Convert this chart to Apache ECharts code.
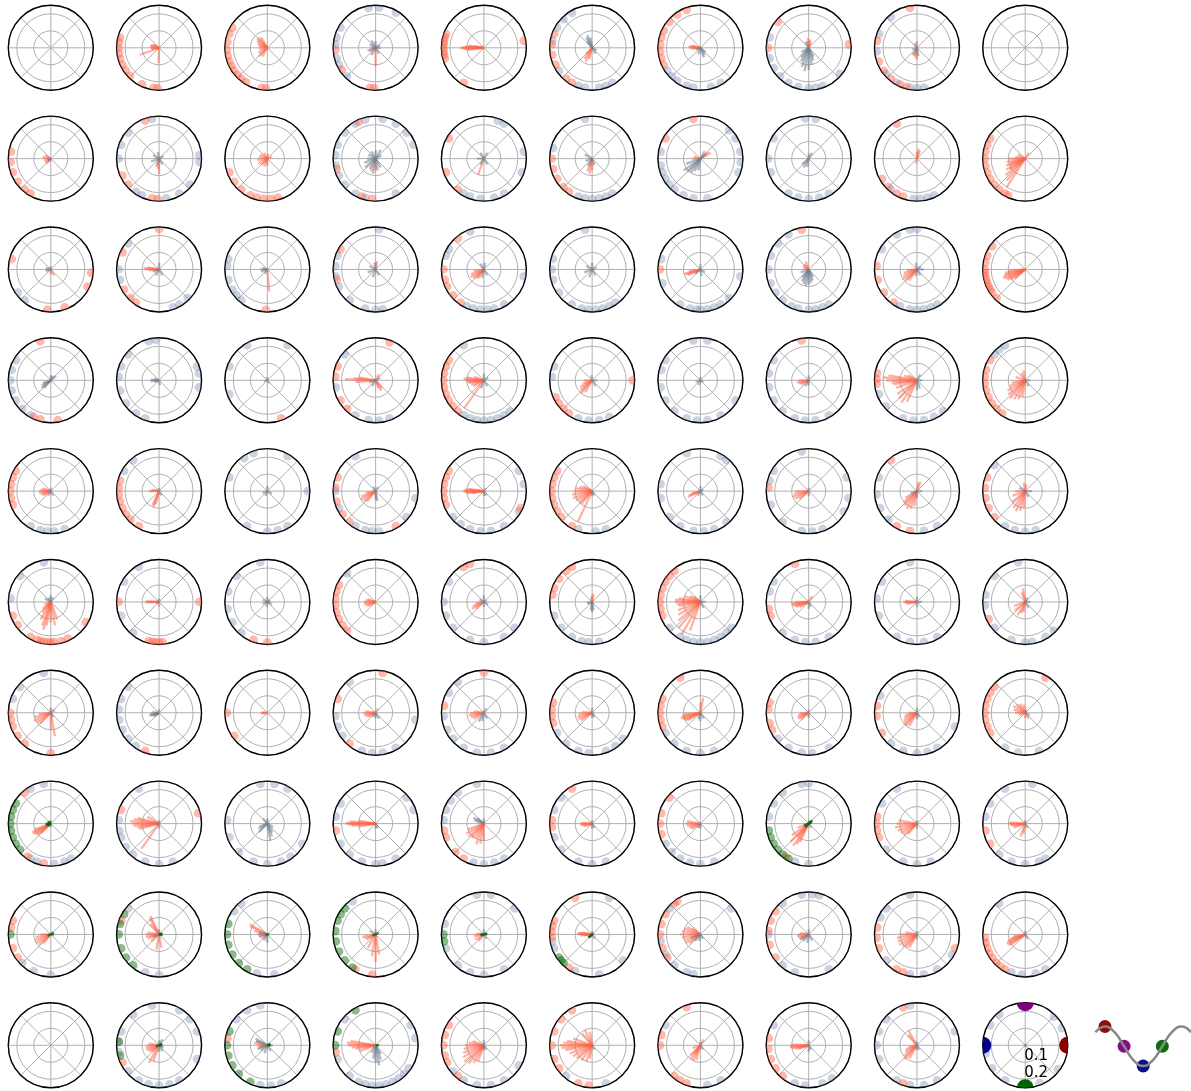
<!DOCTYPE html>
<html>
<head>
<meta charset="utf-8">
<script src="https://cdn.jsdelivr.net/npm/echarts@6/dist/echarts.min.js"></script>
<style>
  html, body { margin: 0; padding: 0; background: #fff; }
  #chart { width: 1191px; height: 1091px; }
</style>
</head>
<body>
<div id="chart"></div>
<script>
// Grid of 10 x 10 polar panels. Cell index = row * 10 + col.
// Vectors are [angleDeg, length]; dots are angles on the rim. Radius axis runs 0..0.25.

const redVectors = [
  /* row 0 */
  [],
  [[200,.12],[268,.09],[160,.05],[170,.055],[180,.05],[190,.045],[150,.04]],
  [[120,.07],[130,.08],[140,.08],[150,.07],[160,.06],[170,.05],[190,.05],[210,.06],[225,.07],[240,.06]],
  [[270,.11],[210,.04],[180,.03]],
  [[178,.13],[181,.14],[184,.12],[176,.11],[172,.09],[188,.1],[170,.06]],
  [[245,.09],[235,.08],[255,.07],[225,.05]],
  [[170,.06],[175,.07],[180,.065],[165,.05],[185,.05]],
  [[80,.05],[95,.06],[100,.04],[70,.04]],
  [[260,.06],[270,.07],[250,.05],[90,.04]],
  [],
  /* row 1 */
  [[150,.04],[170,.05],[190,.04],[210,.04],[230,.04]],
  [[270,.09],[265,.06]],
  [[150,.05],[170,.05],[190,.06],[210,.06],[230,.05],[250,.05],[270,.04],[120,.04],[80,.03],[20,.03]],
  [[250,.08],[270,.07]],
  [[250,.1]],
  [[260,.09],[250,.08],[270,.07]],
  [[30,.07],[40,.06],[180,.05],[160,.04]],
  [],
  [[80,.06],[70,.05],[90,.04],[260,.03]],
  [[180,.1],[190,.11],[200,.12],[210,.13],[220,.15],[230,.17],[237,.2],[195,.09],[205,.1],[215,.11],[170,.06],[60,.04],[150,.05]],
  /* row 2 */
  [[300,.04],[270,.03],[160,.03]],
  [[175,.09],[180,.08],[170,.07],[185,.06]],
  [[275,.13]],
  [[80,.05],[100,.04]],
  [[200,.08],[210,.09],[220,.08],[230,.07],[240,.06],[190,.06]],
  [],
  [[195,.1],[200,.09],[205,.08],[190,.07]],
  [[110,.05],[130,.04],[150,.04],[170,.03]],
  [[195,.08],[205,.09],[215,.1],[225,.09],[235,.08],[185,.06]],
  [[185,.1],[190,.12],[195,.13],[200,.14],[205,.13],[210,.12],[215,.1],[220,.08]],
  /* row 3 */
  [],
  [],
  [],
  [[178,.18],[175,.13],[185,.12],[170,.1],[300,.07],[310,.06],[290,.05],[60,.04]],
  [[170,.1],[175,.12],[180,.11],[185,.1],[190,.09],[200,.08],[210,.07],[235,.2],[160,.06]],
  [[210,.08],[220,.09],[230,.1],[240,.08],[200,.06],[180,.05]],
  [],
  [[180,.06],[190,.07],[200,.06],[210,.05]],
  [[170,.17],[175,.2],[180,.18],[185,.15],[190,.14],[200,.13],[215,.14],[225,.15],[235,.16],[245,.14],[160,.08],[150,.06]],
  [[200,.1],[210,.12],[220,.13],[230,.14],[240,.13],[250,.12],[260,.1],[190,.08],[160,.06],[100,.06],[120,.05]],
  /* row 4 */
  [[170,.06],[180,.07],[190,.07],[200,.06],[160,.05],[210,.05]],
  [[175,.05],[180,.06],[170,.04],[250,.1],[245,.09],[255,.08]],
  [],
  [[200,.09],[210,.1],[220,.09],[230,.08],[190,.06]],
  [[175,.11],[178,.12],[181,.12],[184,.11],[187,.1],[172,.09],[190,.07]],
  [[170,.1],[180,.11],[190,.12],[200,.12],[210,.11],[220,.1],[230,.1],[245,.2],[160,.08],[150,.06]],
  [[200,.07],[205,.08],[195,.05]],
  [[180,.08],[190,.09],[200,.1],[210,.09],[220,.07]],
  [[210,.08],[220,.1],[230,.11],[240,.12],[250,.11],[260,.09],[70,.06],[80,.05]],
  [[200,.08],[220,.1],[235,.12],[245,.13],[255,.12],[265,.1],[180,.06],[100,.05],[80,.04]],
  /* row 5 */
  [[240,.12],[250,.15],[255,.17],[260,.14],[270,.12],[280,.14],[290,.11],[230,.08],[220,.06],[200,.04]],
  [[178,.08],[182,.08],[180,.07],[270,.03]],
  [[0,.02]],
  [[170,.06],[180,.07],[190,.07],[200,.06],[210,.05],[160,.05]],
  [[200,.07],[210,.08],[220,.06],[190,.05]],
  [[80,.05],[90,.04],[100,.03],[190,.03]],
  [[170,.13],[175,.15],[180,.15],[185,.14],[190,.13],[200,.14],[210,.15],[220,.17],[230,.2],[240,.22],[250,.18],[160,.1],[150,.07],[140,.05]],
  [[180,.08],[185,.1],[190,.1],[195,.09],[200,.08],[210,.06],[60,.04]],
  [[175,.07],[180,.08],[185,.07],[190,.06]],
  [[100,.08],[110,.06],[200,.07],[220,.08],[240,.09],[250,.07],[260,.06]],
  /* row 6 */
  [[195,.1],[205,.11],[215,.1],[225,.09],[280,.14],[270,.1],[185,.07]],
  [[170,.04]],
  [[180,.04],[175,.03],[185,.035]],
  [[170,.06],[180,.07],[190,.07],[200,.06],[210,.05],[60,.03]],
  [[180,.08],[190,.09],[200,.08],[210,.07],[170,.06]],
  [[185,.08],[195,.09],[205,.09],[215,.08],[175,.06]],
  [[185,.1],[190,.11],[195,.12],[200,.11],[205,.1],[210,.09],[80,.09],[90,.06]],
  [[190,.06],[200,.07],[210,.07],[220,.06],[180,.05]],
  [[200,.08],[210,.09],[220,.1],[230,.1],[240,.09],[190,.07],[180,.05]],
  [[120,.06],[135,.07],[150,.08],[165,.07],[180,.06],[100,.05],[200,.04],[300,.04],[270,.03]],
  /* row 7 */
  [[200,.1],[205,.12],[210,.12],[215,.11],[220,.1],[225,.08]],
  [[165,.13],[170,.15],[175,.17],[180,.16],[185,.15],[190,.13],[195,.12],[235,.18],[150,.08]],
  [],
  [[178,.17],[180,.18],[182,.16],[175,.15],[185,.14],[190,.1],[170,.1]],
  [[200,.1],[210,.12],[220,.12],[230,.11],[240,.1],[250,.13],[260,.12],[270,.1]],
  [[175,.06],[180,.07],[185,.07],[190,.06],[200,.05]],
  [[170,.08],[180,.09],[190,.08],[200,.07],[210,.06]],
  [[215,.12],[225,.15],[235,.16],[240,.14],[245,.12],[230,.1],[200,.07]],
  [[170,.11],[180,.12],[190,.13],[200,.12],[210,.11],[220,.1],[230,.08]],
  [[175,.09],[180,.1],[185,.09],[190,.08],[200,.07],[250,.08],[260,.06]],
  /* row 8 */
  [[190,.09],[200,.1],[210,.1],[220,.09],[230,.07],[180,.06]],
  [[115,.12],[120,.11],[130,.08],[170,.07],[180,.08],[190,.08],[200,.07],[220,.06],[260,.09],[280,.08]],
  [[150,.12],[155,.11],[165,.08],[180,.06],[200,.05],[220,.04]],
  [[260,.13],[270,.16],[280,.12],[240,.09],[200,.07],[190,.08],[210,.06]],
  [[180,.05],[190,.06],[210,.06],[230,.05],[170,.04]],
  [[172,.08],[176,.09],[180,.08],[184,.07],[170,.06],[186,.05]],
  [[150,.09],[160,.1],[170,.11],[180,.12],[190,.11],[200,.1],[210,.1],[220,.08],[140,.06]],
  [[180,.06],[190,.07],[200,.06],[210,.05],[170,.05]],
  [[180,.1],[190,.12],[200,.12],[210,.12],[220,.11],[230,.1],[240,.09],[170,.07]],
  [[195,.09],[200,.11],[205,.12],[210,.12],[215,.11],[190,.07]],
  /* row 9 */
  [],
  [[180,.07],[190,.08],[200,.08],[210,.07],[220,.06],[240,.12],[250,.1],[170,.06]],
  [[160,.07],[170,.08],[180,.06],[200,.06],[190,.05]],
  [[170,.15],[175,.17],[180,.16],[185,.14],[190,.12],[200,.1]],
  [[170,.09],[180,.11],[190,.12],[200,.13],[210,.14],[220,.15],[230,.14],[240,.12],[250,.1],[160,.07]],
  [[100,.08],[115,.1],[130,.09],[160,.12],[170,.15],[175,.17],[180,.19],[185,.18],[190,.16],[200,.14],[210,.13],[220,.12],[235,.11],[250,.1],[260,.08]],
  [[225,.08],[235,.1],[245,.1],[255,.09],[240,.06],[200,.05],[60,.04]],
  [[178,.1],[182,.11],[186,.11],[190,.1],[195,.08],[200,.06]],
  [[120,.1],[130,.08],[200,.07],[210,.08],[220,.1],[230,.11],[240,.09],[190,.05]],
  []
];

const greyVectors = [
  /* row 0 */
  [], [],
  [],
  [[90,.04],[120,.05],[150,.04],[200,.05],[240,.05],[300,.04],[30,.03],[0,.03]],
  [],
  [[110,.08],[120,.07],[100,.06],[130,.05],[300,.04],[330,.03]],
  [[300,.05],[290,.06],[320,.04],[250,.04],[200,.03]],
  [[250,.12],[260,.14],[270,.13],[280,.1],[240,.09],[230,.07],[290,.08],[300,.06],[210,.05],[120,.04]],
  [[240,.05],[280,.05],[120,.03],[200,.03]],
  [],
  /* row 1 */
  [[200,.02],[250,.02]],
  [[100,.04],[150,.04],[200,.05],[250,.05],[300,.04],[30,.03]],
  [],
  [[200,.07],[220,.08],[240,.07],[260,.09],[280,.07],[300,.06],[60,.06],[90,.05],[120,.05],[150,.05],[180,.05],[30,.04]],
  [[60,.04],[120,.04],[180,.04],[240,.04],[300,.04]],
  [[150,.05],[200,.04],[240,.05],[290,.04]],
  [[200,.09],[215,.12],[225,.11],[235,.1],[245,.08],[260,.07],[60,.05],[40,.04]],
  [[220,.05],[240,.06],[260,.05],[60,.04],[90,.03]],
  [],
  [],
  /* row 2 */
  [[180,.03],[200,.03],[90,.02]],
  [[200,.04],[240,.04],[300,.04],[90,.04]],
  [[180,.04],[200,.04],[160,.03],[240,.03]],
  [[90,.04],[150,.04],[200,.05],[250,.05],[300,.04]],
  [[80,.04],[120,.04],[260,.05],[300,.04]],
  [[90,.04],[150,.04],[200,.05],[250,.05],[300,.04],[30,.03]],
  [[90,.03],[220,.04],[280,.04],[330,.03]],
  [[240,.08],[250,.09],[260,.1],[270,.09],[280,.08],[290,.07],[230,.06],[200,.05],[300,.05]],
  [[100,.04],[260,.04],[300,.04],[0,.04],[40,.03]],
  [],
  /* row 3 */
  [[210,.06],[220,.07],[230,.06],[200,.05],[40,.04],[60,.03],[90,.03]],
  [[175,.05],[185,.05],[160,.03],[200,.03],[280,.03]],
  [[90,.02],[200,.02],[300,.02]],
  [[200,.04],[240,.04],[30,.03]],
  [[90,.04],[250,.05],[300,.04],[30,.03]],
  [[100,.03],[300,.04],[0,.03]],
  [[200,.03],[250,.03],[90,.02],[330,.02]],
  [[240,.04],[270,.03],[90,.03]],
  [[270,.06],[290,.05],[60,.04],[0,.03]],
  [[300,.04],[0,.03]],
  /* row 4 */
  [[90,.02],[240,.03],[300,.03]],
  [[90,.02],[300,.03]],
  [[90,.03],[200,.03],[250,.03],[330,.03]],
  [[280,.06],[270,.05],[60,.03],[120,.03]],
  [[270,.03],[300,.03],[60,.02]],
  [[270,.03],[300,.03]],
  [[90,.03],[240,.03],[300,.03],[30,.02]],
  [[270,.03],[90,.02]],
  [[200,.04],[270,.04],[0,.03]],
  [[150,.04],[300,.04],[0,.04]],
  /* row 5 */
  [[90,.04],[120,.03],[150,.04],[60,.03]],
  [[90,.02],[200,.02]],
  [[90,.03],[150,.03],[200,.03],[260,.03],[330,.03],[30,.02]],
  [],
  [[90,.04],[150,.03],[270,.03],[330,.03],[30,.02]],
  [[260,.05],[270,.06],[280,.05],[200,.03]],
  [[90,.04],[300,.04],[0,.03]],
  [[270,.04],[300,.03]],
  [[90,.03],[270,.03],[0,.03]],
  [[0,.03],[300,.04],[60,.03]],
  /* row 6 */
  [[90,.03],[40,.03],[300,.03]],
  [[185,.05],[195,.06],[200,.05],[210,.04],[220,.03],[90,.02]],
  [],
  [[270,.03],[300,.04],[240,.03]],
  [[240,.06],[260,.05],[300,.04],[60,.03]],
  [[90,.03],[270,.03],[300,.03]],
  [[270,.05],[300,.04],[250,.04]],
  [[270,.03],[90,.02]],
  [[90,.03],[270,.04],[300,.03]],
  [[330,.03],[60,.02]],
  /* row 7 */
  [[270,.02],[90,.02]],
  [[90,.02],[270,.03]],
  [[200,.05],[210,.06],[225,.07],[280,.1],[290,.08],[300,.06],[330,.04],[90,.03],[130,.04]],
  [[270,.03],[300,.03]],
  [[150,.07],[160,.06],[140,.05],[90,.03]],
  [[270,.03],[300,.03],[90,.02]],
  [[270,.03],[240,.03]],
  [[300,.03]],
  [[90,.02],[270,.03]],
  [[90,.02],[300,.03]],
  /* row 8 */
  [],
  [[90,.03],[200,.04]],
  [[170,.05],[190,.05],[240,.04],[270,.05]],
  [[90,.03],[150,.04]],
  [[300,.03],[90,.03]],
  [[300,.03],[90,.02]],
  [[200,.06],[230,.05],[260,.04],[300,.03]],
  [[210,.06],[230,.05],[260,.05],[300,.04],[90,.03]],
  [[270,.03],[90,.02]],
  [[90,.02],[300,.03]],
  /* row 9 */
  [],
  [[60,.04],[90,.03],[270,.04],[300,.04],[330,.03]],
  [[150,.08],[160,.07],[200,.06],[220,.05],[250,.05],[300,.04],[0,.03]],
  [[270,.1],[280,.12],[290,.09],[260,.08],[300,.06],[240,.05]],
  [[90,.03],[270,.03],[300,.03]],
  [[300,.03]],
  [[300,.03],[90,.02]],
  [[270,.04],[90,.03],[300,.03]],
  [[270,.03],[90,.02],[300,.03]],
  [[0,.008],[90,.008],[180,.008],[270,.008]]
];

const greenVectors = [];
greenVectors[70] = [[180,.03],[200,.03],[160,.02],[220,.02],[140,.02]];
greenVectors[77] = [[40,.03],[60,.02],[20,.02],[200,.03],[230,.03]];
greenVectors[80] = [[0,.02],[40,.02],[200,.02]];
greenVectors[81] = [[0,.02],[350,.02],[20,.02]];
greenVectors[82] = [[0,.012],[180,.01]];
greenVectors[83] = [[30,.02],[200,.02]];
greenVectors[84] = [[0,.02],[20,.02],[180,.02],[200,.02]];
greenVectors[85] = [[220,.03],[225,.025],[40,.01]];
greenVectors[91] = [[0,.02],[30,.02],[200,.02]];
greenVectors[92] = [[0,.02],[30,.02]];
greenVectors[93] = [[0,.02]];

const redDots = [
  /* row 0 */
  [],
  [165,172,180,188,196,205,214,224,245,262,268],
  [150,160,172,183,192,200,207,214,222,230,238,262,268],
  [183,213,262,268],
  [160,165,170,175,180,185,190,195,240,10],
  [160,175,190,205,230,240],
  [110,125,140,155,165,175,185,195,205],
  [140,180,5],
  [100,170,200,215,230,245,255],
  [],
  /* row 1 */
  [170,185,200,215,230,240],
  [110,205,220,260,268],
  [200,215,230,245,255,265,275,285],
  [115,195,265,250],
  [150,200,230],
  [180,195,210,225,235],
  [100,150],
  [],
  [120,210,225,240,250],
  [150,160,170,180,190,200,210,220,230,240,245],
  /* row 2 */
  [165,355,335,265,290],
  [90,155,210,225,235],
  [268],
  [150,195],
  [130,180,195,205,220,235],
  [],
  [180],
  [100],
  [175,195,215,235],
  [145,160,170,180,185,190,195,200,205,210,215,225],
  /* row 3 */
  [105,245,255,280],
  [],
  [290],
  [70,160,175,210,225],
  [150,160,170,180,190,200,210,220,230],
  [0,205,215,225,235],
  [],
  [100],
  [170,178,185],
  [150,165,175,185,195,205,215,225,235],
  /* row 4 */
  [150,160,170,180,190,200],
  [165,175,185,195,205,215,225,240],
  [],
  [160,175,195,215,230,300],
  [150,160,170,180,190,200,335],
  [150,160,170,180,190,200,210,220,240],
  [],
  [175],
  [130,240,260],
  [160,175,190,205,220],
  /* row 5 */
  [200,215,240,250,255,260,265,270,275,285,295,330],
  [0,180,255,260,265,270,275],
  [270,250],
  [155,165,175,185,195,205,215,225],
  [120,110],
  [120,130,145,160,170],
  [130,140,150,160,170,180,190,200],
  [110,190,200],
  [],
  [205],
  /* row 6 */
  [180,190,200,215,230,270],
  [250],
  [180,215],
  [80,160,230],
  [90,170],
  [165,175,185,195],
  [120,160,170,180,190,200],
  [165,175,195,205],
  [170,185,210],
  [140,150,160,170,180,190,200,210,60],
  /* row 7 */
  [130,235,260],
  [160,15],
  [],
  [190],
  [190,200,225,240],
  [175,185,120],
  [140,165,180,195],
  [235],
  [170,180,190,200],
  [190,210],
  /* row 8 */
  [160,170,200,215],
  [160],
  [],
  [240,265],
  [],
  [115,160,168,176,184,235],
  [125,130,150,165,180,200,215],
  [145,160,175,195,215],
  [170,185,200,240,250,340],
  [185,192,200,208,216,224,232,240],
  /* row 9 */
  [],
  [205],
  [170],
  [190],
  [150,165,180,195,205,230],
  [120,140,160,180,200,215,250,265],
  [110,165,180,230,240,250],
  [170,185,200,215,230],
  [110,250],
  []
];

const greyDots = [
  /* row 0 */
  [], [], [],
  [100,85,60,150,165,175,195,205,225],
  [],
  [120,135,150,170,215,250,260,280,290,300],
  [215,225,235,250,260,285,300],
  [165,195,210,225,240,255,270,280,290,320],
  [130,160,185,220,240,260,270,280],
  [],
  /* row 1 */
  [],
  [100,140,160,180,235,245,280,300,320,355,5],
  [],
  [105,120,140,160,175,190,205,220,240,255,300,20,40,60,80],
  [60,70,10,340,300,265,250,285,240],
  [100,250,260,270,280,290,300,165],
  [170,190,200,210,220,230,245,260,280,340,355,10,30,45],
  [80,95,150,200,240,255,270,285,300,180],
  [230,265,275,285,295],
  [],
  /* row 2 */
  [215,230],
  [140,180,195,290,300,315],
  [165,175,195,210,220,230],
  [85,160,175,190,205,230,255,270,280],
  [110,150,160,245,255,265,275,285,300,350],
  [100,165,180,195,215,240,255,265,275,285,295,305],
  [165,200,240,255,265,270,280,290,300,315,350],
  [120,140,160,180,200,215,230,245,255,270,280,290,300],
  [90,100,120,150,245,260,270,280,290,300],
  [],
  /* row 3 */
  [150,165,180,195,210,225,240],
  [95,105,140,160,175,195,215,235,250,350,10,20],
  [60,120,160,200],
  [140,190,240,260,275,290],
  [120,240,250,260,270,280,290,300,310],
  [250,265,280,295,175,160],
  [80,100,150,165,190,210,230,250,265,280,300,330],
  [150,170,190,210,230,250,265,280,300],
  [250,265,280,295,310,200,220],
  [120,130,140],
  /* row 4 */
  [240,255,265,275,290],
  [130,150],
  [60,110,125,160,0,270,285,300,240],
  [120,180,205,240,255,265,275,320,350],
  [220,235,250,265,280,300,330,10,30],
  [250,275,290],
  [50,60,110,170,190,220,240,260,275,290,310],
  [100,150,165,200,230,260,275,290,330,350,20],
  [160,185,205,225,280,300],
  [140,240,255,270,285],
  /* row 5 */
  [100,140,175],
  [120,150,200,230],
  [100,140,165,190,210,230],
  [135],
  [150,180,200,220,250,270,300,320],
  [200,220,240,255,265,280],
  [220,240,250,260,270,280,290,300,310,320],
  [150,165,230,250,265,280,300],
  [100,150,175,200,240,260,280,300],
  [100,140,170,185,220,250,270,280,300,315],
  /* row 6 */
  [100,140,160],
  [140,160,175,190,205,220,235],
  [],
  [130,185,200,215,250,265,280,300,350],
  [130,150,185,205,220,240,260,280,300],
  [210,230,250,265,290,305,320],
  [210,230,250,270,290],
  [220,240,260,275,300],
  [155,230,250,270,285,300,340],
  [240,260,290],
  /* row 7 */
  [240,250,275,290,300,100,120],
  [120,175,190,200,215,230,250,270,290],
  [80,60,100,175,200,225,250,270,290,305,330],
  [150,170,210,230,250,270,280,300,20,40],
  [100,130,145,160,175,255,270,285,300],
  [140,160,200,220,250,270,290],
  [210,225,240,255,270,290],
  [90,100,130,150,170,250,270],
  [150,220,250,270,290,120],
  [120,150,170,230,250,270,290,300,80],
  /* row 8 */
  [225,245,270],
  [140,250,270],
  [130,145,255,280],
  [125],
  [80,100,165,200,230,250,270,300,40],
  [190,200,245,280,65,320],
  [140,190,210,230,250,260,40],
  [75,85,100,130,180,230,250,300],
  [100,140,155,220,260,280,300,330],
  [130,250,265,285,300],
  /* row 9 */
  [],
  [100,130,160,175,190,220,240,255,270,285,300,20,40,60,340],
  [100,120,140,260,275,290],
  [140,200,230,245,255,265,275,285,295,305,315,325,10,30],
  [220,240,260,280,300,330],
  [230,290],
  [150,280,300],
  [150,250,265,290,305],
  [100,140,160,180,200,240,260,280,300,20],
  [25,45,130,150,192,215,240,291,324]
];

const greenDots = [];
greenDots[70] = [150,160,170,180,190,200,210,220];
greenDots[77] = [190,200,210,220,230,240];
greenDots[80] = [180];
greenDots[81] = [150,165,180,200,215,230];
greenDots[82] = [165,180,195,210,225,240];
greenDots[83] = [140,150,160,175,190,205,220,235];
greenDots[84] = [180,190];
greenDots[85] = [215,220,225];
greenDots[91] = [175,195];
greenDots[92] = [160,180,195,210,225,245];
greenDots[93] = [120,160,180];

// Phase key: marker angle on the last panel and position on the cosine strip.
const phaseAngles = [0, 90, 180, 270];
const phaseColors = ['#8b0000', '#800080', '#00008b', '#006400'];
const phaseLevels = [1, 0, -1, 0];
// Cosine key curve, sampled every 45 degrees of phase.
const curvePhase = [-45, 0, 45, 90, 135, 180, 225, 270, 315, 360, 405];
const curveLevel = [0.71, 1, 0.71, 0, -0.71, -1, -0.71, 0, 0.71, 1, 0.71];
// Radius labels shown on the key panel.
const radiusTicks = [0.1, 0.2];

// Drawing constants
const DOT_R = 0.238;
const KEY_R = 0.25;
const VEC_COLORS = ['rgba(255,99,71,0.5)', 'rgba(112,128,144,0.55)', 'rgba(0,100,0,0.75)'];
const DOT_COLORS = ['rgba(255,99,71,0.45)', 'rgba(100,122,160,0.33)', 'rgba(0,100,0,0.45)'];
// item kinds: 0-2 vectors, 3-5 rim dots, 6-9 phase key dots, 10 radius label
const KIND_KEY = 6, KIND_LABEL = 10;

const N_ROWS = 10, N_COLS = 10;
const X0 = 50.8, DX = 108.27, Y0 = 47.8, DY = 110.83, PANEL_R = 42.5;

function renderItem(params, api) {
  const r = api.value(0), a = api.value(1), k = api.value(2);
  if (k <= 2) {
    const p0 = api.coord([0, a]);
    const p1 = api.coord([r, a]);
    return { type: 'line', shape: { x1: p0[0], y1: p0[1], x2: p1[0], y2: p1[1] },
             style: { stroke: VEC_COLORS[k], lineWidth: 2.3 } };
  }
  const p = api.coord([r, a]);
  if (k <= 5) {
    return { type: 'circle', shape: { cx: p[0], cy: p[1], r: 4.4 }, style: { fill: DOT_COLORS[k - 3] } };
  }
  if (k < KIND_LABEL) {
    return { type: 'circle', shape: { cx: p[0], cy: p[1], r: 8.5 }, style: { fill: phaseColors[k - KIND_KEY] } };
  }
  return { type: 'text', x: p[0] - 1, y: p[1] + 1,
           style: { text: r.toFixed(1), font: '15px "DejaVu Sans"', fill: '#000', align: 'left', verticalAlign: 'bottom' } };
}

const polar = [], angleAxis = [], radiusAxis = [], series = [];
for (let i = 0; i < N_ROWS * N_COLS; i++) {
  const row = Math.floor(i / N_COLS), col = i % N_COLS;
  polar.push({ center: [X0 + col * DX, Y0 + row * DY], radius: PANEL_R });
  angleAxis.push({
    polarIndex: i, type: 'value', min: 0, max: 360, interval: 45,
    startAngle: 0, clockwise: false,
    axisLine: { show: true, lineStyle: { color: '#000', width: 1.4 } },
    axisTick: { show: false }, axisLabel: { show: false },
    splitLine: { show: true, lineStyle: { color: '#b0b0b0', width: 1 } }
  });
  radiusAxis.push({
    polarIndex: i, type: 'value', min: 0, max: 0.25, interval: 0.1,
    axisLine: { show: false }, axisTick: { show: false }, axisLabel: { show: false },
    splitLine: { show: true, lineStyle: { color: '#b0b0b0', width: 1 } }
  });

  const items = [];
  (greyDots[i] || []).forEach(a => items.push([DOT_R, a, 4]));
  (redDots[i] || []).forEach(a => items.push([DOT_R, a, 3]));
  (greenDots[i] || []).forEach(a => items.push([DOT_R, a, 5]));
  (redVectors[i] || []).forEach(v => items.push([v[1], v[0], 0]));
  (greyVectors[i] || []).forEach(v => items.push([v[1], v[0], 1]));
  (greenVectors[i] || []).forEach(v => items.push([v[1], v[0], 2]));
  if (i === N_ROWS * N_COLS - 1) {
    phaseAngles.forEach((a, j) => items.push([KEY_R, a, KIND_KEY + j]));
    radiusTicks.forEach(t => items.push([t, 270, KIND_LABEL]));
  }
  if (items.length) {
    series.push({
      type: 'custom', coordinateSystem: 'polar', polarIndex: i,
      clip: true, silent: true, animation: false,
      data: items, renderItem: renderItem
    });
  }
}

// Cosine phase strip to the right of the key panel
const grid = [{ left: 1095.4, top: 1026.5, width: 101.2, height: 39.5 }];
const xAxis = [{ type: 'value', gridIndex: 0, min: -45, max: 405, show: false }];
const yAxis = [{ type: 'value', gridIndex: 0, min: -1, max: 1, show: false }];
series.push({
  type: 'scatter', xAxisIndex: 0, yAxisIndex: 0, clip: false, silent: true, animation: false,
  symbolSize: 13, z: 2,
  data: phaseAngles.map((a, j) => ({ value: [a, phaseLevels[j]], itemStyle: { color: phaseColors[j], opacity: 0.95 } }))
});
series.push({
  type: 'line', xAxisIndex: 0, yAxisIndex: 0, clip: false, silent: true, animation: false,
  smooth: true, showSymbol: false, symbol: 'none', z: 3,
  lineStyle: { color: '#888888', width: 2.5 },
  data: curvePhase.map((p, j) => [p, curveLevel[j]])
});

const chart = echarts.init(document.getElementById('chart'), null, { renderer: 'canvas' });
chart.setOption({
  backgroundColor: '#ffffff',
  animation: false,
  polar, angleAxis, radiusAxis, grid, xAxis, yAxis, series
});
</script>
</body>
</html>
